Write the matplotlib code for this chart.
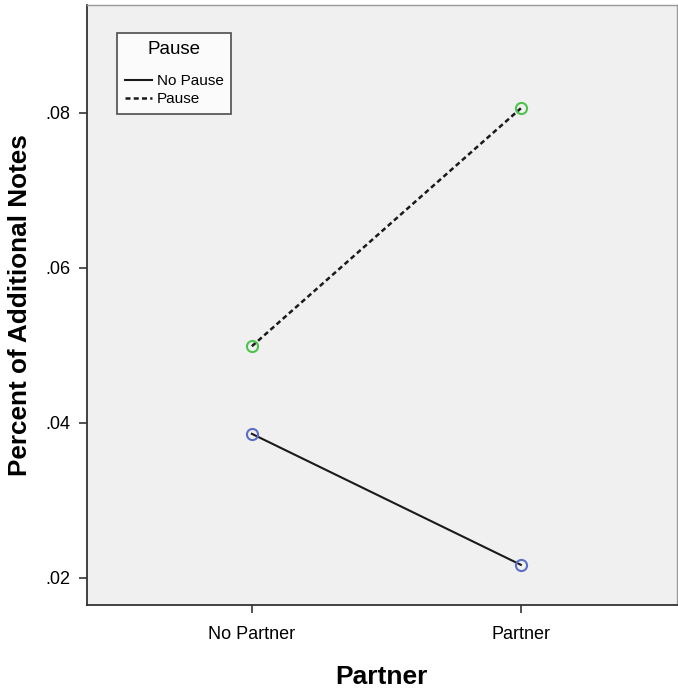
import matplotlib
matplotlib.use("Agg")
import matplotlib.pyplot as plt

plt.rcParams["font.family"] = ["Liberation Sans", "DejaVu Sans"]

categories = ["No Partner", "Partner"]
no_pause = [0.0386, 0.0217]
pause = [0.0499, 0.0806]
y_ticks = [0.02, 0.04, 0.06, 0.08]
y_tick_labels = [".02", ".04", ".06", ".08"]

fig = plt.figure(figsize=(6.78, 6.91), dpi=100)
ax = fig.add_axes([0.1283, 0.1245, 0.870, 0.868])
ax.set_facecolor("#f0f0f0")

x = list(range(len(categories)))
ax.plot(x, no_pause, color="#1a1a1a", lw=1.5, ls="-", label="No Pause", zorder=2)
ax.plot(x, pause, color="#1a1a1a", lw=1.8, ls=(0, (2, 1.3)), label="Pause", zorder=2)
ax.plot(x, no_pause, "o", ms=8, mfc="none", mec="#5a6fc8", mew=1.5, zorder=3)
ax.plot(x, pause, "o", ms=8, mfc="none", mec="#4cc44c", mew=1.5, zorder=3)

ax.set_xlim(-0.613, 1.58)
ax.set_ylim(0.01652, 0.0939)
ax.set_xticks(x)
ax.set_xticklabels(categories, fontsize=13)
ax.set_yticks(y_ticks)
ax.set_yticklabels(y_tick_labels, fontsize=13)
ax.tick_params(direction="out", length=6, width=1.2, color="#333333")
ax.tick_params(axis="x", pad=9)
ax.tick_params(axis="y", pad=6)

for side in ["left", "bottom"]:
    ax.spines[side].set_color("#333333")
    ax.spines[side].set_linewidth(1.3)
for side in ["top", "right"]:
    ax.spines[side].set_color("#9a9a9a")
    ax.spines[side].set_linewidth(1.0)

ax.set_xlabel("Partner", fontsize=19, fontweight="bold", labelpad=16)
ax.set_ylabel("Percent of Additional Notes", fontsize=18.8, fontweight="bold")
ax.yaxis.set_label_coords(-0.094, 0.5)

leg = ax.legend(title="Pause", loc="upper left", bbox_to_anchor=(0.0508, 0.9533),
                borderaxespad=0, fontsize=11, title_fontsize=13.5, frameon=True,
                fancybox=False, handlelength=1.8, handletextpad=0.3, borderpad=0.5,
                labelspacing=0.25)
leg._legend_box.sep = 12
leg.get_frame().set_edgecolor("#222222")
leg.get_frame().set_facecolor("white")
leg.get_frame().set_linewidth(1.2)

fig.savefig("out.png", dpi=100)
